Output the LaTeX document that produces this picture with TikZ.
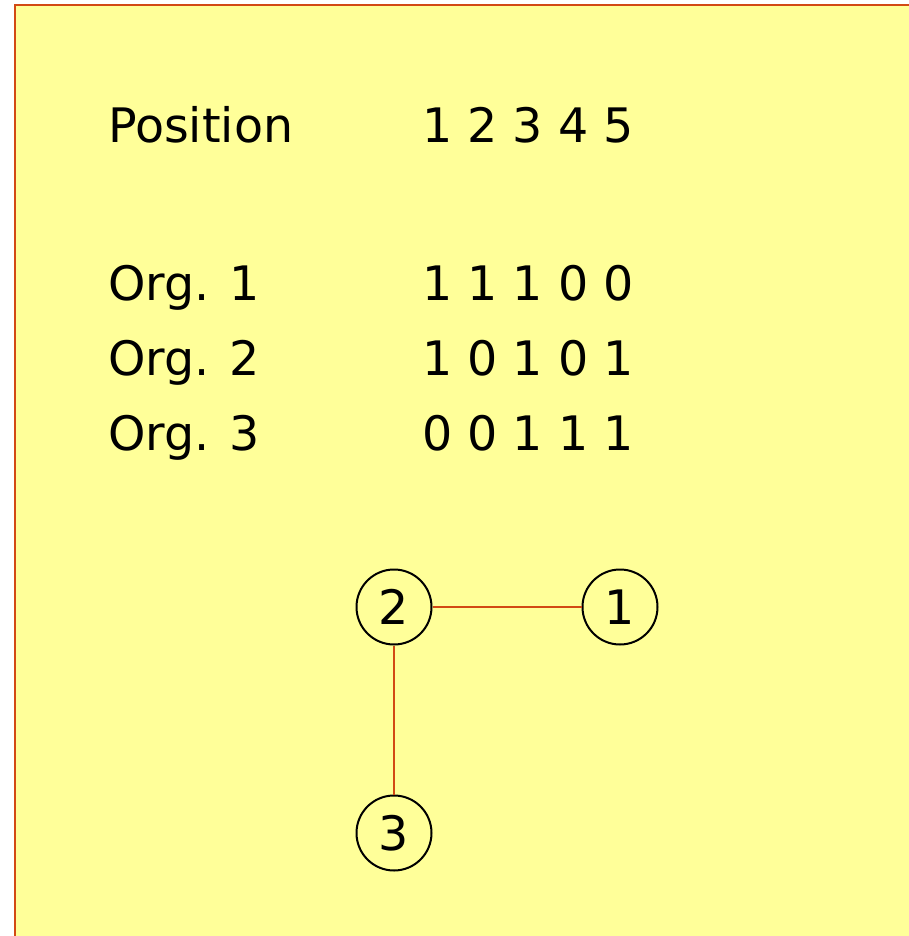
\documentclass[tikz,border=0pt]{standalone}
\usepackage{fontspec}
\setmainfont{DejaVu Sans}
\definecolor{bgyellow}{HTML}{FFFF99}
\definecolor{edgered}{HTML}{D24A14}
\begin{document}
\begin{tikzpicture}[x=1pt,y=-1pt,
  txt/.style={anchor=base west,inner sep=0pt,font=\fontsize{47.5}{57}\selectfont},
  vert/.style={circle,draw=black,line width=2pt,minimum size=75pt,inner sep=0pt,font=\fontsize{47.5}{57}\selectfont},
  link/.style={draw=edgered,line width=2pt}]
\useasboundingbox (0,0) rectangle (909,936);
\fill[white] (0,0) rectangle (909,936);
\draw[fill=bgyellow,draw=edgered,line width=2.5pt] (15,5) rectangle (915,945);
\node[txt] (pos) at (108,143) {Position};
\node[txt] (posv) at (422,143) {1 2 3 4 5};
\node[txt] (o1) at (108,300) {Org. 1};
\node[txt] (o1v) at (422,300) {1 1 1 0 0};
\node[txt] (o2) at (108,375) {Org. 2};
\node[txt] (o2v) at (422,375) {1 0 1 0 1};
\node[txt] (o3) at (108,450) {Org. 3};
\node[txt] (o3v) at (422,450) {0 0 1 1 1};
\node[vert] (n2) at (394,607) {2};
\node[vert] (n1) at (620,607) {1};
\node[vert] (n3) at (394,833) {3};
\draw[link] (n2) -- (n1);
\draw[link] (n2) -- (n3);
\end{tikzpicture}
\end{document}
